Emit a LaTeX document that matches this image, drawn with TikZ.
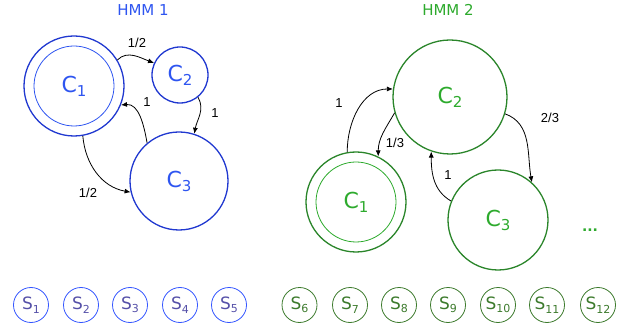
\documentclass[tikz,border=0pt]{standalone}
\usepackage{fontspec}
\setmainfont{DejaVu Sans}
\newfontfamily\lblfont{Liberation Sans}
\usetikzlibrary{arrows.meta}
\definecolor{hblue}{HTML}{2038D0}
\definecolor{tblue}{HTML}{2E55F0}
\definecolor{sblue}{HTML}{3355FF}
\definecolor{sbluetext}{HTML}{5550A8}
\definecolor{hgreen}{HTML}{2A852A}
\definecolor{tgreen}{HTML}{2DAA2D}
\definecolor{sgreen}{HTML}{3C7A2C}
\newcommand{\mkC}[1]{\fontsize{22}{22}\selectfont C\raisebox{-4pt}{\fontsize{15}{15}\selectfont #1}}
\newcommand{\mkS}[1]{\fontsize{17}{17}\selectfont S\raisebox{-3.5pt}{\fontsize{11}{11}\selectfont #1}}
\tikzset{
  bstate/.style={circle, draw=hblue, line width=1.3pt, inner sep=0pt, text=tblue},
  binner/.style={circle, draw=tblue, line width=0.8pt, inner sep=0pt},
  gstate/.style={circle, draw=hgreen, line width=1.3pt, inner sep=0pt, text=tgreen},
  ginner/.style={circle, draw=tgreen, line width=0.8pt, inner sep=0pt},
  bobs/.style={circle, draw=sblue, line width=0.8pt, minimum size=35pt, inner sep=0pt, text=sbluetext},
  gobs/.style={circle, draw=sgreen, line width=0.8pt, minimum size=35pt, inner sep=0pt, text=sgreen},
  trans/.style={line width=0.8pt, -{Latex[length=6pt,width=5pt]}},
  plabel/.style={font=\lblfont\fontsize{13}{13}\selectfont, text=black, inner sep=0pt},
  title/.style={font=\fontsize{15}{15}\selectfont, inner sep=0pt}
}
\begin{document}
\begin{tikzpicture}[x=1pt,y=-1pt]
\useasboundingbox (0,0) rectangle (628,336);
% titles
\node[title, text=tblue] (t1) at (143,10) {HMM 1};
\node[title, text=tgreen] (t2) at (448,10) {HMM 2};
% HMM 1
\node[binner, minimum size=80pt] (h1c1in) at (74,86) {};
\node[bstate, minimum size=100pt] (h1c1) at (74,86) {\mkC{1}};
\node[bstate, minimum size=56pt] (h1c2) at (180,75) {\mkC{2}};
\node[bstate, minimum size=98pt] (h1c3) at (179,181) {\mkC{3}};
\draw[trans] (h1c1.31) to[out=45,in=160] (h1c2.155);
\draw[trans] (h1c2.-51) to[out=-60,in=80] (h1c3.72);
\draw[trans] (h1c3.130) to[out=100,in=5] (h1c1.-22);
\draw[trans] (h1c1.-80) to[out=-85,in=170] (h1c3.193);
\node[plabel] (l1) at (137,43) {1/2};
\node[plabel] (l2) at (215,113) {1};
\node[plabel] (l3) at (147,102) {1};
\node[plabel] (l4) at (88,193) {1/2};
% HMM 2
\node[ginner, minimum size=80pt] (h2c1in) at (356,202) {};
\node[gstate, minimum size=100pt] (h2c1) at (356,202) {\mkC{1}};
\node[gstate, minimum size=114pt] (h2c2) at (450,97) {\mkC{2}};
\node[gstate, minimum size=100pt] (h2c3) at (498,220) {\mkC{3}};
\draw[trans] (h2c1.100) to[out=90,in=180] (h2c2.172);
\draw[trans] (h2c2.-164) to[out=-120,in=90] (h2c1.64);
\draw[trans] (h2c2.-17) to[out=-20,in=100] (h2c3.48);
\draw[trans] (h2c3.158) to[out=150,in=-90] (h2c2.-109);
\node[plabel] (m1) at (339,103) {1};
\node[plabel] (m2) at (395,143) {1/3};
\node[plabel] (m3) at (550,118) {2/3};
\node[plabel] (m4) at (448,175) {1};
\node[text=tgreen, font=\bfseries\fontsize{14}{14}\selectfont, inner sep=0pt] (dots) at (590,230) {...};
% observations
\foreach \i/\x in {1/31,2/81,3/130,4/180,5/229}{
  \node[bobs] (s\i) at (\x,305) {\mkS{\i}};
}
\foreach \i/\x in {6/299.5,7/350,8/399,9/448,10/498,11/547,12/598}{
  \node[gobs] (s\i) at (\x,305) {\mkS{\i}};
}
\end{tikzpicture}
\end{document}
